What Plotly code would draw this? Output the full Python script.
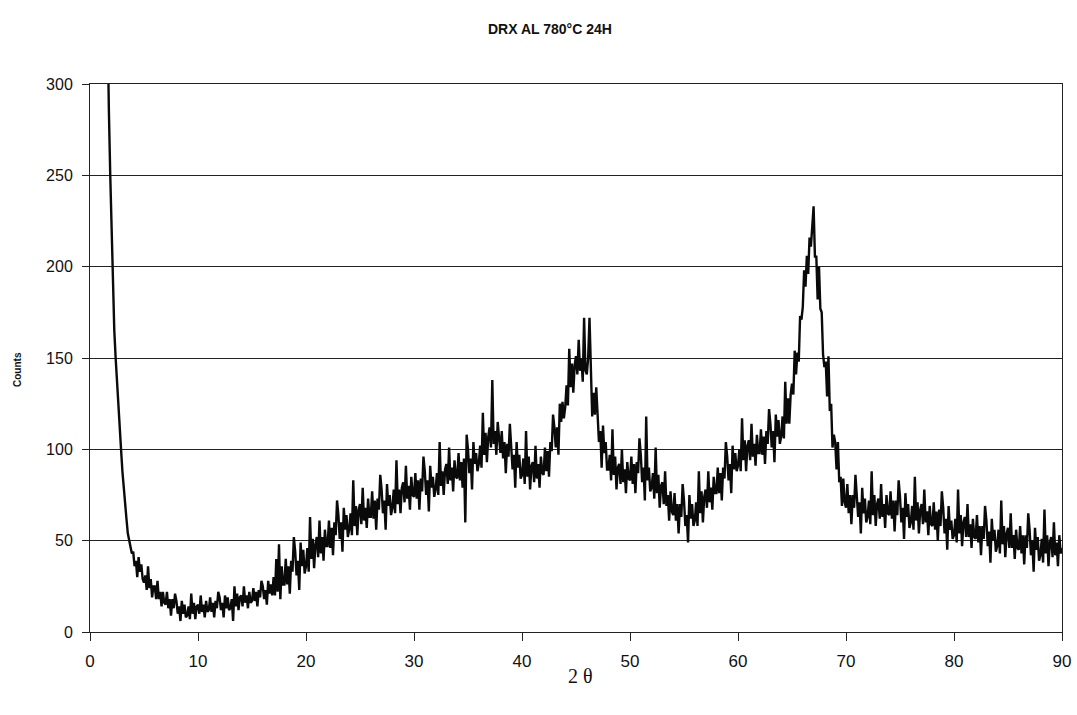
import plotly.graph_objects as go

# Sampling grid of the scan (degrees 2-theta)
start_angle = 1.5
step_angle = 0.125

# Counts (hand-estimated, noise included)
steep_part = [380, 320, 285, 250, 222, 190, 165, 150, 136, 122, 110, 100,
              88, 78, 70, 62, 54, 50, 46, 43]          # 1.5 .. 3.875

# one row per degree, 8 samples per degree (d, d+0.125, ... d+0.875)
rows = [
    [44, 36, 39, 30, 41, 33, 37, 29],          # 4
    [27, 31, 23, 36, 24, 29, 19, 25],          # 5
    [25, 18, 28, 18, 22, 14, 22, 16],          # 6
    [15, 22, 13, 18, 9, 18, 13, 21],           # 7
    [17, 10, 14, 6, 17, 10, 15, 8],            # 8
    [9, 14, 7, 21, 10, 16, 7, 14],             # 9
    [15, 10, 20, 11, 15, 8, 17, 11],           # 10
    [12, 19, 11, 16, 8, 17, 13, 22],           # 11
    [19, 12, 16, 8, 20, 13, 19, 12],           # 12
    [13, 18, 6, 25, 14, 21, 12, 19],           # 13
    [20, 14, 25, 16, 20, 13, 22, 16],          # 14
    [17, 24, 17, 22, 14, 23, 19, 28],          # 15
    [25, 18, 23, 15, 28, 21, 26, 20],          # 16
    [30, 20, 40, 22, 48, 18, 36, 26],          # 17
    [26, 40, 26, 36, 21, 39, 33, 52],          # 18
    [44, 31, 39, 23, 49, 36, 45, 32],          # 19
    [36, 46, 33, 63, 40, 51, 35, 48],          # 20
    [52, 41, 61, 43, 52, 39, 56, 47],          # 21
    [47, 61, 46, 57, 42, 60, 53, 72],          # 22
    [64, 51, 60, 44, 68, 56, 64, 52],          # 23
    [56, 65, 53, 83, 58, 69, 53, 67],          # 24
    [70, 59, 79, 61, 68, 57, 73, 63],          # 25
    [63, 77, 62, 72, 56, 73, 67, 86],          # 26
    [78, 65, 72, 56, 81, 69, 75, 64],          # 27
    [68, 78, 65, 94, 70, 78, 65, 79],          # 28
    [82, 71, 91, 73, 80, 67, 85, 75],          # 29
    [74, 87, 73, 83, 67, 84, 77, 96],          # 30
    [88, 75, 83, 66, 91, 79, 85, 74],          # 31
    [78, 87, 75, 104, 80, 88, 75, 89],         # 32
    [92, 81, 101, 83, 90, 77, 94, 85],         # 33
    [84, 98, 83, 93, 79, 95, 60, 108],         # 34
    [100, 87, 95, 78, 104, 92, 98, 88],        # 35
    [92, 102, 90, 120, 97, 109, 93, 107],      # 36
    [112, 101, 138, 103, 110, 97, 115, 105],   # 37
    [98, 110, 95, 104, 87, 103, 96, 114],      # 38
    [104, 89, 97, 79, 104, 90, 97, 84],        # 39
    [86, 95, 81, 110, 85, 96, 78, 91],         # 40
    [93, 82, 102, 84, 92, 79, 96, 87],         # 41
    [86, 101, 88, 99, 85, 104, 99, 119],       # 42
    [112, 101, 112, 97, 125, 115, 126, 117],   # 43
    [123, 135, 124, 155, 134, 147, 131, 146],  # 44
    [151, 141, 160, 143, 150, 137, 172, 143],  # 45
    [141, 150, 172, 138, 118, 131, 119, 134],  # 46
    [120, 104, 110, 90, 113, 98, 104, 89],     # 47
    [89, 97, 83, 111, 86, 96, 78, 90],         # 48
    [92, 81, 100, 82, 89, 76, 93, 84],         # 49
    [83, 96, 81, 92, 76, 93, 87, 106],         # 50
    [97, 82, 90, 72, 118, 83, 90, 77],         # 51
    [79, 87, 73, 101, 76, 86, 68, 80],         # 52
    [82, 70, 88, 69, 75, 61, 77, 66],          # 53
    [64, 76, 61, 70, 54, 70, 63, 81],          # 54
    [72, 58, 64, 49, 75, 62, 70, 58],          # 55
    [61, 71, 58, 88, 65, 77, 60, 74],          # 56
    [78, 68, 88, 71, 79, 67, 85, 76],          # 57
    [76, 90, 76, 87, 72, 90, 84, 104],         # 58
    [96, 83, 92, 76, 102, 89, 98, 88],         # 59
    [91, 100, 88, 117, 94, 105, 88, 102],      # 60
    [105, 94, 114, 96, 103, 91, 108, 98],      # 61
    [98, 111, 97, 107, 92, 110, 103, 122],     # 62
    [114, 101, 110, 93, 119, 107, 116, 103],   # 63
    [107, 118, 106, 137, 114, 128, 114, 130],  # 64
    [136, 130, 154, 141, 153, 148, 173, 171],  # 65
    [178, 198, 189, 206, 196, 216, 211, 225],  # 66
    [233, 205, 206, 182, 200, 177, 175, 152],  # 67
    [145, 148, 129, 151, 121, 125, 101, 108],  # 68
    [104, 89, 104, 82, 85, 69, 84, 71],        # 69
    [68, 81, 65, 75, 59, 75, 68, 86],          # 70
    [77, 63, 71, 54, 79, 65, 73, 60],          # 71
    [63, 72, 59, 88, 64, 75, 58, 70],          # 72
    [73, 62, 81, 63, 70, 57, 75, 65],          # 73
    [64, 77, 62, 72, 55, 72, 64, 83],          # 74
    [74, 60, 68, 51, 76, 63, 70, 57],          # 75
    [60, 69, 56, 85, 61, 71, 54, 67],          # 76
    [70, 59, 78, 60, 66, 53, 69, 59],          # 77
    [58, 71, 56, 66, 50, 67, 58, 77],          # 78
    [68, 54, 62, 45, 69, 56, 61, 51],          # 79
    [53, 62, 49, 78, 54, 64, 47, 60],          # 80
    [63, 52, 70, 52, 59, 46, 62, 52],          # 81
    [51, 64, 49, 58, 42, 58, 51, 69],          # 82
    [61, 47, 55, 38, 62, 50, 56, 44],          # 83
    [47, 56, 43, 72, 48, 58, 41, 54],          # 84
    [57, 46, 65, 46, 53, 40, 56, 46],          # 85
    [45, 58, 43, 53, 37, 53, 46, 65],          # 86
    [56, 42, 50, 33, 57, 45, 52, 39],          # 87
    [42, 51, 38, 67, 43, 53, 36, 49],          # 88
    [52, 41, 60, 42, 49, 36, 53, 43],          # 89
    [46],                                      # 90
]

counts = steep_part + [v for row in rows for v in row]
angles = [start_angle + i * step_angle for i in range(len(counts))]

x_ticks = [0, 10, 20, 30, 40, 50, 60, 70, 80, 90]
y_ticks = [0, 50, 100, 150, 200, 250, 300]

fig = go.Figure()
fig.add_trace(go.Scatter(
    x=angles, y=counts, mode="lines",
    line=dict(color="#0a0a0a", width=2.4),
    showlegend=False,
))

fig.update_layout(
    width=1077, height=715,
    margin=dict(l=90, r=15, t=84, b=83),
    paper_bgcolor="white", plot_bgcolor="white",
    font=dict(family="Liberation Sans, Arial, sans-serif", color="#111111"),
    xaxis=dict(
        range=[0, 90], tickvals=x_ticks, ticktext=[str(v) for v in x_ticks],
        showgrid=False, zeroline=False, automargin=False,
        showline=True, linecolor="#222222", linewidth=1, mirror=True,
        ticks="outside", ticklen=8, tickcolor="#222222",
        tickfont=dict(size=17), ticklabelstandoff=6,
    ),
    yaxis=dict(
        range=[0, 300], tickvals=y_ticks, ticktext=[str(v) for v in y_ticks],
        showgrid=True, gridcolor="#222222", gridwidth=1, zeroline=False,
        automargin=False,
        showline=True, linecolor="#222222", linewidth=1, mirror=True,
        ticks="outside", ticklen=7, tickcolor="#222222",
        tickfont=dict(size=16), ticklabelstandoff=6,
    ),
    annotations=[
        dict(text="<b>DRX AL 780°C 24H</b>", xref="paper", yref="paper",
             x=(550 - 90) / 972, y=(632 - 29) / 548, showarrow=False,
             font=dict(size=14, family="Liberation Sans, Arial, sans-serif"),
             xanchor="center", yanchor="middle"),
        dict(text="<b>Counts</b>", xref="paper", yref="paper",
             x=(17 - 90) / 972, y=(632 - 370) / 548, showarrow=False,
             textangle=-90, font=dict(size=10),
             xanchor="center", yanchor="middle"),
        dict(text="2 θ", xref="paper", yref="paper",
             x=(580 - 90) / 972, y=(632 - 676) / 548, showarrow=False,
             font=dict(size=20, family="Liberation Serif, Times New Roman, serif"),
             xanchor="center", yanchor="middle"),
    ],
)

fig.write_html("out.html", config={"displayModeBar": False},
               post_script="document.body.style.margin='0px';")
